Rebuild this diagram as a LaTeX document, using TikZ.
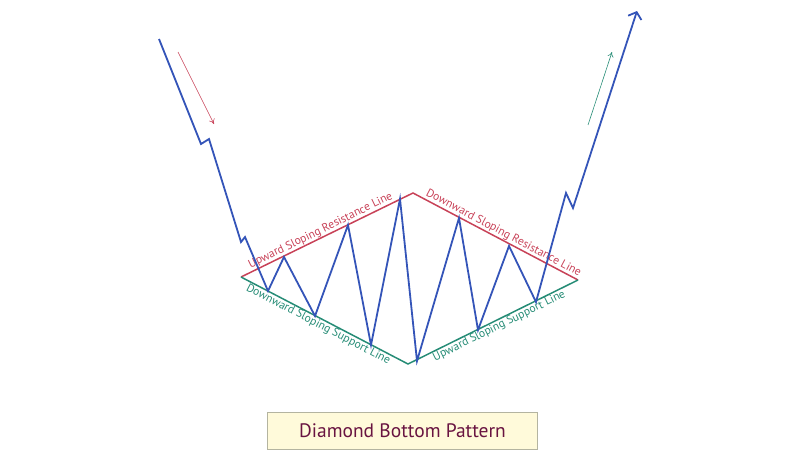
\documentclass[tikz,border=0pt]{standalone}
\usepackage{fontspec}
\setmainfont{PT Sans}
\usetikzlibrary{arrows.meta}
\definecolor{priceblue}{RGB}{52,84,184}
\definecolor{resred}{RGB}{200,66,88}
\definecolor{supgreen}{RGB}{38,140,118}
\definecolor{titlefill}{RGB}{255,250,218}
\definecolor{titleborder}{RGB}{180,180,160}
\definecolor{titletext}{RGB}{105,20,65}
\tikzset{
  price/.style={draw=priceblue, line width=1.8pt, line join=miter},
  resline/.style={draw=resred, line width=1.5pt},
  supline/.style={draw=supgreen, line width=1.5pt},
  reslabel/.style={text=resred, font=\fontsize{11.6}{13}\selectfont, inner sep=1pt},
  suplabel/.style={text=supgreen, font=\fontsize{11.6}{13}\selectfont, inner sep=1pt},
  hintarrow/.style={line width=0.6pt, -{To[length=5pt,width=6pt]}},
  titlebox/.style={draw=titleborder, fill=titlefill, line width=0.8pt, text=titletext, font=\fontsize{19.5}{22}\selectfont, minimum width=270pt, minimum height=37pt}
}
\begin{document}
\begin{tikzpicture}[x=1pt,y=-1pt]
\useasboundingbox (0,0) rectangle (800,471);
% diamond vertices
\coordinate (L) at (241,277);
\coordinate (T) at (413,193);
\coordinate (R) at (578,280);
\coordinate (B) at (408,364);
% resistance and support lines
\draw[resline] (L) -- (T) -- (R);
\draw[supline] (L) -- (B) -- (R);
\path (L) -- node[reslabel, pos=0.48, above, sloped] {Upward Sloping Resistance Line} (T);
\path (T) -- node[reslabel, pos=0.53, above, sloped] {Downward Sloping Resistance Line} (R);
\path (L) -- node[suplabel, pos=0.48, below, sloped] {Downward Sloping Support Line} (B);
\path (B) -- node[suplabel, pos=0.52, below, sloped] {Upward Sloping Support Line} (R);
% price path
\coordinate (p0) at (159,39);
\coordinate (p1) at (201,144);
\coordinate (p2) at (209,139);
\coordinate (p3) at (241,242);
\coordinate (p4) at (245,237);
\coordinate (p5) at (268,291);
\coordinate (p6) at (284,257);
\coordinate (p7) at (315,316);
\coordinate (p8) at (348,225);
\coordinate (p9) at (371,345);
\coordinate (p10) at (400,199);
\coordinate (p11) at (417,361);
\coordinate (p12) at (459,218);
\coordinate (p13) at (478,330);
\coordinate (p14) at (509,246);
\coordinate (p15) at (536,302);
\coordinate (p16) at (566,193);
\coordinate (p17) at (573,208);
\coordinate (p18) at (637,11);
\draw[price, -{Straight Barb[length=6pt,width=14pt]}] (p0) -- (p1) -- (p2) -- (p3) -- (p4) -- (p5) -- (p6) -- (p7) -- (p8) -- (p9) -- (p10) -- (p11) -- (p12) -- (p13) -- (p14) -- (p15) -- (p16) -- (p17) -- (p18);
% trend hint arrows
\coordinate (d0) at (178,52);
\coordinate (d1) at (214,124);
\coordinate (u0) at (588,125);
\coordinate (u1) at (612,52);
\draw[hintarrow, draw=resred] (d0) -- (d1);
\draw[hintarrow, draw=supgreen] (u0) -- (u1);
% title
\node[titlebox] (title) at (402.5,430.5) {Diamond Bottom Pattern};
\end{tikzpicture}
\end{document}
